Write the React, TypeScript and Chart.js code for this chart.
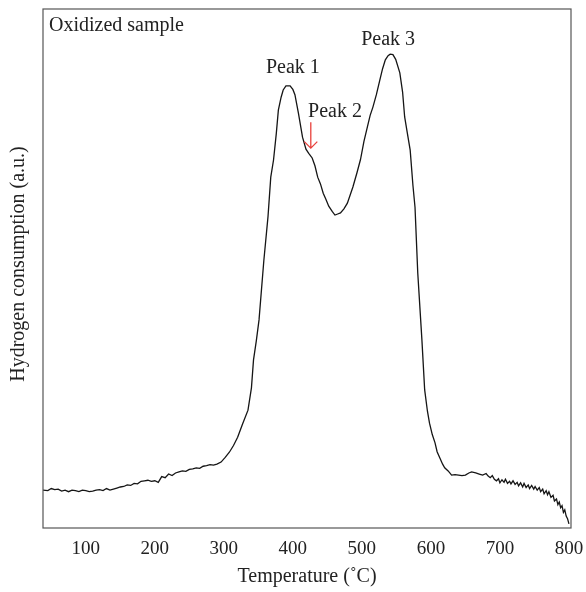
import { useEffect, useRef } from 'react';
import { Chart, registerables } from 'chart.js';

Chart.register(...registerables);

const temperature = [
  38, 45, 50, 55, 60, 65, 70, 75, 80, 85, 90, 95, 100, 105, 110, 115, 120, 125, 130, 135,
  140, 145, 150, 155, 160, 165, 170, 175, 180, 185, 190, 195, 200, 205, 210, 215, 220, 225, 230, 235,
  240, 245, 250, 255, 260, 265, 270, 275, 280, 285, 290, 296, 302, 308, 314, 320, 327, 335, 340, 343,
  347, 351, 358, 364, 368, 372, 376, 379, 383, 386, 390, 396, 400, 403, 408, 414, 419, 423, 428, 432,
  436, 440, 444, 448, 452, 457, 461, 465, 469, 474, 479, 487, 493, 498, 503, 508, 512, 516, 521, 526,
  530, 534, 538, 541, 545, 549, 555, 559, 562, 566, 570, 574, 577, 581, 587, 591, 595, 598, 602, 606,
  609, 613, 617, 620, 625, 630, 635, 640, 645, 650, 655, 659, 665, 670, 675, 680, 683, 686, 689, 692,
  695, 698, 700, 703, 706, 708, 711, 714, 716, 719, 722, 725, 727, 730, 733, 735, 738, 741, 743, 746,
  749, 751, 754, 757, 759, 762, 764, 767, 769, 771, 774, 777, 779, 782, 784, 786, 788, 790, 792, 794,
  796, 798, 800,
];

const hydrogen = [
  7.3, 7.2, 7.6, 7.4, 7.5, 7.1, 7.3, 7.0, 7.3, 7.2, 7.0, 7.3, 7.2, 7.0, 7.1, 7.3, 7.4, 7.2, 7.6, 7.3,
  7.5, 7.7, 7.9, 8.0, 8.3, 8.2, 8.6, 8.5, 9.0, 9.1, 9.2, 9.0, 9.1, 8.8, 9.9, 9.7, 10.4, 10.1, 10.6, 10.8,
  11.0, 10.9, 11.3, 11.4, 11.6, 11.5, 11.9, 12.0, 12.2, 12.1, 12.3, 12.7, 13.6, 14.6, 15.9, 17.5, 20.0, 22.7, 27.0, 32.4,
  36.0, 40.1, 51.6, 60.0, 67.6, 70.9, 76.0, 80.5, 83.0, 84.4, 85.2, 85.2, 84.5, 83.5, 80.0, 75.3, 73.0, 72.2, 71.3, 69.8,
  67.6, 66.3, 64.5, 63.3, 62.0, 61.0, 60.3, 60.5, 60.7, 61.5, 62.6, 65.7, 68.5, 71.0, 74.5, 77.3, 79.5, 81.1, 83.5, 86.3,
  88.5, 90.2, 91.0, 91.3, 91.2, 90.3, 87.7, 84.0, 79.2, 76.0, 72.8, 66.0, 61.8, 49.1, 36.2, 26.6, 22.5, 20.2, 18.0, 16.4,
  14.7, 13.5, 12.3, 11.6, 11.0, 10.2, 10.3, 10.2, 10.1, 10.2, 10.6, 10.8, 10.6, 10.4, 10.2, 10.5, 10.0, 9.7, 10.1, 9.4,
  9.1, 9.5, 8.7, 9.3, 8.8, 9.4, 8.6, 9.0, 8.5, 9.1, 8.4, 8.8, 8.1, 8.7, 7.9, 8.6, 7.8, 8.3, 7.6, 8.2,
  7.5, 8.0, 7.3, 7.8, 7.0, 7.5, 6.6, 7.2, 6.4, 7.0, 5.9, 6.3, 5.2, 5.6, 4.5, 5.0, 3.9, 4.3, 3.0, 3.5,
  2.3, 1.8, 0.8,
];

const xTicks = [100, 200, 300, 400, 500, 600, 700, 800];

const peakNames = ['Peak 1', 'Peak 2', 'Peak 3'];
const peakLabelT = [400, 461, 538];
const peakLabelV = [87.7, 79.2, 93.1];

const FONT = '"Liberation Serif", "Times New Roman", serif';

const overlay = {
  id: 'overlay',
  afterDatasetsDraw(chart: any) {
    const { ctx, chartArea, scales } = chart;
    const xs = scales.x;
    const ys = scales.y;
    ctx.save();
    ctx.strokeStyle = '#555';
    ctx.lineWidth = 1.2;
    ctx.strokeRect(chartArea.left, chartArea.top, chartArea.right - chartArea.left, chartArea.bottom - chartArea.top);

    ctx.fillStyle = '#222';
    ctx.font = `20px ${FONT}`;
    ctx.textBaseline = 'alphabetic';
    ctx.textAlign = 'left';
    ctx.fillText('Oxidized sample', chartArea.left + 6, chartArea.top + 22);

    ctx.textAlign = 'center';
    for (let i = 0; i < peakNames.length; i++) {
      ctx.fillText(peakNames[i], xs.getPixelForValue(peakLabelT[i]), ys.getPixelForValue(peakLabelV[i]));
    }

    const ax = xs.getPixelForValue(426);
    const ay0 = ys.getPixelForValue(78.2);
    const ay1 = ys.getPixelForValue(73.2);
    ctx.strokeStyle = '#e8413c';
    ctx.lineWidth = 1.3;
    ctx.beginPath();
    ctx.moveTo(ax, ay0);
    ctx.lineTo(ax, ay1);
    ctx.moveTo(ax - 6.5, ay1 - 6.5);
    ctx.lineTo(ax, ay1);
    ctx.lineTo(ax + 6.5, ay1 - 6.5);
    ctx.stroke();

    ctx.fillStyle = '#222';
    ctx.font = `20px ${FONT}`;
    ctx.textAlign = 'center';
    ctx.textBaseline = 'middle';
    ctx.fillText('Temperature (˚C)', (chartArea.left + chartArea.right) / 2, 577);

    ctx.translate(19, 264);
    ctx.rotate(-Math.PI / 2);
    ctx.fillText('Hydrogen consumption (a.u.)', 0, 0);
    ctx.restore();
  },
};

export default function App() {
  const ref = useRef<HTMLCanvasElement | null>(null);

  useEffect(() => {
    document.body.style.margin = '0';
    const canvas = ref.current;
    if (!canvas) return;
    const points = temperature.map((t, i) => ({ x: t, y: hydrogen[i] }));
    const chart = new Chart(canvas, {
      type: 'line',
      data: {
        datasets: [
          {
            data: points,
            borderColor: '#151515',
            borderWidth: 1.3,
            pointRadius: 0,
            tension: 0,
            fill: false,
          },
        ],
      },
      options: {
        responsive: false,
        animation: false,
        maintainAspectRatio: false,
        layout: { padding: { top: 9, right: 15, left: 0, bottom: 0 } },
        plugins: { legend: { display: false }, tooltip: { enabled: false }, title: { display: false } },
        scales: {
          x: {
            type: 'linear',
            min: 38,
            max: 803,
            grid: { display: false, drawTicks: false },
            border: { display: false },
            afterBuildTicks: (scale: any) => {
              scale.ticks = xTicks.map((v) => ({ value: v }));
            },
            afterFit: (scale: any) => {
              scale.height = 64;
              scale.paddingLeft = 0;
              scale.paddingRight = 0;
            },
            ticks: {
              color: '#222',
              padding: 10,
              maxRotation: 0,
              autoSkip: false,
              font: { family: FONT, size: 19 },
              callback: (v: any) => String(v),
            },
          },
          y: {
            min: 0,
            max: 100,
            grid: { display: false, drawTicks: false },
            border: { display: false },
            ticks: { display: false },
            afterFit: (scale: any) => {
              scale.width = 43;
              scale.paddingTop = 0;
              scale.paddingBottom = 0;
            },
          },
        },
      },
      plugins: [overlay],
    });
    return () => chart.destroy();
  }, []);

  return (
    <div style={{ width: 586, height: 592 }}>
      <canvas ref={ref} width={586} height={592} style={{ display: 'block' }} />
    </div>
  );
}
